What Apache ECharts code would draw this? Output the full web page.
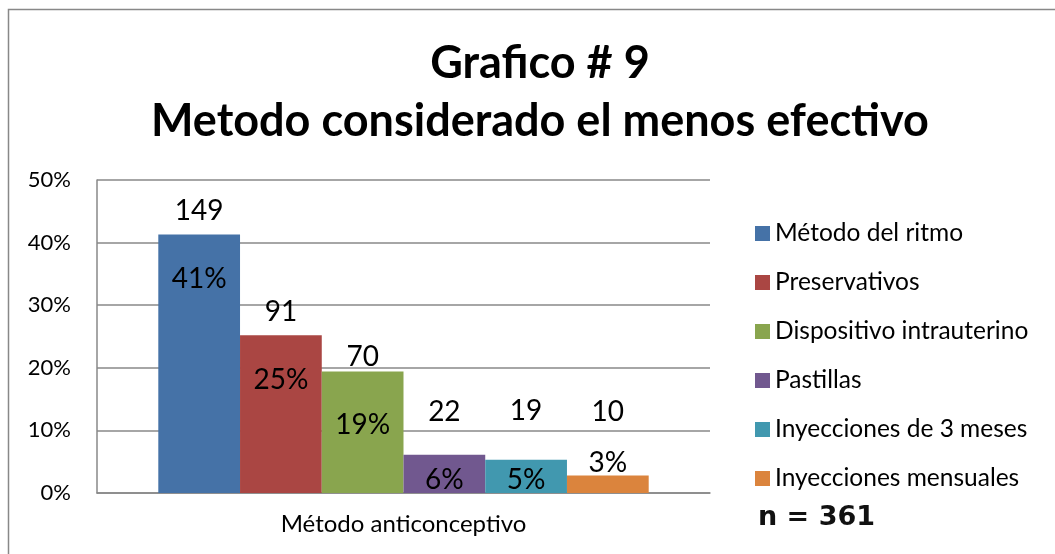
<!DOCTYPE html>
<html>
<head>
<meta charset="utf-8">
<script src="https://cdn.jsdelivr.net/npm/echarts@6/dist/echarts.min.js"></script>
<style>
  html, body { margin: 0; padding: 0; background: #fff; }
  #chart { width: 1055px; height: 554px; }
</style>
</head>
<body>
<div id="chart"></div>
<script>
// datos
const categories = ['Método anticonceptivo'];
const methods = [
  'Método del ritmo',
  'Preservativos',
  'Dispositivo intrauterino',
  'Pastillas',
  'Inyecciones de 3 meses',
  'Inyecciones mensuales'
];
const counts = [149, 91, 70, 22, 19, 10];
const percents = [41.3, 25.2, 19.4, 6.1, 5.3, 2.8];
const yTicks = [0, 10, 20, 30, 40, 50];

const colors = ['#4572A7', '#AA4643', '#89A54E', '#71588F', '#4198AF', '#DB843D'];
// desplazamiento de las etiquetas respecto al borde superior de la barra
const countDy = [-23, -23, -15, -43, -49, -64];
const pctDy = [45, 45, 53, 25, 20, -13];

const font = 'Lato';
const chart = echarts.init(document.getElementById('chart'));

const series = methods.map((name, i) => ({
  name: name,
  type: 'bar',
  data: [percents[i]],
  barGap: 0,
  barCategoryGap: '20%',
  itemStyle: { color: colors[i] },
  label: {
    show: true,
    position: ['50%', countDy[i] - 14],
    align: 'center',
    verticalAlign: 'top',
    formatter: () => '{c|' + counts[i] + '}\n{s| }\n{p|' + Math.round(percents[i]) + '%}',
    rich: {
      c: { fontFamily: font, fontSize: 28, lineHeight: 28, color: '#000' },
      s: { fontSize: 10, lineHeight: pctDy[i] - countDy[i] - 28 },
      p: { fontFamily: font, fontSize: 28, lineHeight: 28, color: '#000' }
    }
  }
}));

const option = {
  animation: false,
  textStyle: { fontFamily: font },
  title: {
    text: 'Grafico # 9\nMetodo considerado el menos efectivo',
    left: 535,
    top: 29,
    textAlign: 'center',
    textStyle: { fontFamily: font, fontSize: 45, fontWeight: 'bold', lineHeight: 58, color: '#000' }
  },
  legend: {
    orient: 'vertical',
    left: 750,
    top: 216,
    itemWidth: 15,
    itemHeight: 15,
    itemGap: 24,
    icon: 'rect',
    textStyle: { fontFamily: font, fontSize: 24.5, lineHeight: 22, color: '#000' },
    data: methods
  },
  grid: { left: 97, right: 345, top: 180, bottom: 61, containLabel: false },
  xAxis: {
    type: 'category',
    data: categories,
    axisLine: { lineStyle: { color: '#888', width: 1.5 } },
    axisTick: { show: false },
    axisLabel: { color: '#000', fontSize: 24, margin: 19 }
  },
  yAxis: {
    type: 'value',
    min: yTicks[0],
    max: yTicks[yTicks.length - 1],
    interval: 10,
    axisLine: { show: true, lineStyle: { color: '#888', width: 1.5 } },
    axisTick: { show: false },
    splitLine: { lineStyle: { color: '#888', width: 1.5 } },
    axisLabel: { color: '#000', fontSize: 22, margin: 26, formatter: '{value}%' }
  },
  graphic: [
    {
      type: 'rect',
      shape: { x: 8.5, y: 9.5, width: 1200, height: 700 },
      style: { fill: null, stroke: '#888', lineWidth: 1.5 },
      silent: true,
      z: -1
    },
    {
      type: 'text',
      left: 758,
      top: 504,
      style: { text: 'n = 361', fontFamily: 'DejaVu Sans', fontWeight: 'bold', fontSize: 27, fill: '#111' }
    }
  ],
  series: series
};

chart.setOption(option);
</script>
</body>
</html>
